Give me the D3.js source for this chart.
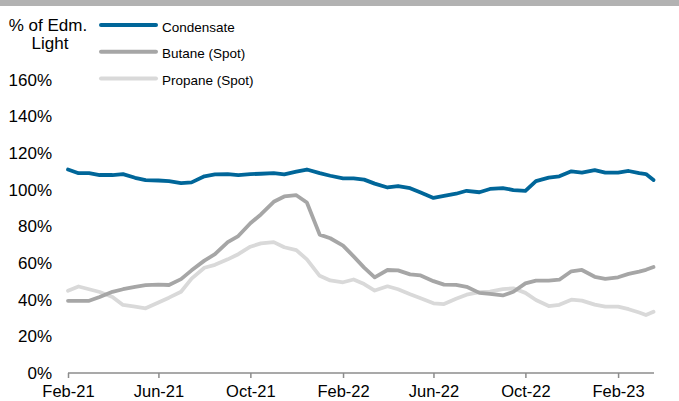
<!DOCTYPE html>
<html>
<head>
<meta charset="utf-8">
<script src="https://cdn.jsdelivr.net/npm/d3@7"></script>
<style>
body { margin: 0; background: white; }
text { font-family: "Liberation Sans", Arial, sans-serif; fill: black; }
</style>
</head>
<body>
<div id="chart"></div>
<script>
// datas (1o e 15 de cada mes)
var datas = ["2021-02-01","2021-02-15","2021-03-01","2021-03-15","2021-04-01","2021-04-15","2021-05-01","2021-05-15",
	"2021-06-01","2021-06-15","2021-07-01","2021-07-15","2021-08-01","2021-08-15","2021-09-01","2021-09-15",
	"2021-10-01","2021-10-15","2021-11-01","2021-11-15","2021-12-01","2021-12-15","2022-01-01","2022-01-15",
	"2022-02-01","2022-02-15","2022-03-01","2022-03-15","2022-04-01","2022-04-15","2022-05-01","2022-05-15",
	"2022-06-01","2022-06-15","2022-07-01","2022-07-15","2022-08-01","2022-08-15","2022-09-01","2022-09-15",
	"2022-10-01","2022-10-15","2022-11-01","2022-11-15","2022-12-01","2022-12-15","2023-01-01","2023-01-15",
	"2023-02-01","2023-02-15","2023-03-01","2023-03-10","2023-03-20"];

var condensate = [111,109,109,108,108,108.5,106.5,105.2,105,104.7,103.6,104,107.3,108.3,108.5,108,
	108.5,108.7,109,108.3,109.8,111,109,107.6,106.2,106.2,105.5,103.3,101.2,102,100.8,98.4,
	95.5,96.6,97.8,99.4,98.6,100.4,100.9,99.8,99.3,104.7,106.6,107.3,110,109.3,110.7,109.3,
	109.3,110.2,109,108.5,105.3];

var butane = [39.4,39.4,39.4,41.5,44.3,45.7,47,47.9,48.2,48,51.2,56,61.3,64.8,71.4,74.7,
	81.7,86.5,93.4,96.3,97,93,75.5,73.5,69.5,63.6,57.5,52.2,56.2,56,53.8,53.2,
	50.1,48.2,48.1,47,43.7,43.2,42.3,44.3,48.9,50.4,50.4,50.9,55.5,56.2,52.5,51.4,
	52.2,54.1,55.3,56.3,57.8];

var propane = [44.9,47.2,45.7,44.2,41.5,37.1,36.2,35.3,38.5,41.1,44.3,51.5,57.4,59,62,64.8,
	68.9,70.7,71.4,68.6,67,62,53,50.5,49.5,51,48.5,45,47.3,45.7,43,40.8,
	38,37.6,40.5,42.7,44.1,44.4,45.7,46.2,43.7,39.8,36.5,37.2,40,39.5,37.3,36.2,
	36.2,34.8,33,31.6,33.4];

var series_nomes = ["Condensate", "Butane (Spot)", "Propane (Spot)"];
var series_cores = ["#006699", "#a6a6a6", "#d9d9d9"];
var y_ticks = [0,20,40,60,80,100,120,140,160];
var x_ticks = ["2021-02-01","2021-06-01","2021-10-01","2022-02-01","2022-06-01","2022-10-01","2023-02-01"];

var width = 679;
var height = 401;
var parse = d3.timeParse("%Y-%m-%d");

var svg = d3.select("#chart").append("svg")
	.attr("width", width)
	.attr("height", height);

// barra cinza no topo
svg.append("rect")
	.attr("x", 0)
	.attr("y", 0)
	.attr("width", width)
	.attr("height", 6)
	.style("fill", "#b2b2b2");

var x = d3.scaleTime()
	.domain([parse("2021-02-01"), parse("2023-03-20")])
	.range([68, 653.5]);

var y = d3.scaleLinear()
	.domain([0, 160])
	.range([373, 79.7]);

// eixo x
var xAxis = d3.axisBottom(x)
	.tickValues(x_ticks.map(parse))
	.tickSize(5)
	.tickSizeOuter(0)
	.tickFormat(d3.timeFormat("%b-%y"));

var gx = svg.append("g")
	.attr("transform", "translate(0,373)")
	.call(xAxis);
gx.select(".domain").attr("stroke", "#8c8c8c").attr("stroke-width", 1.5)
	.attr("d", "M68,0H654");
gx.selectAll(".tick line").attr("stroke", "#8c8c8c").attr("stroke-width", 1.5);
gx.selectAll(".tick text")
	.attr("y", 24)
	.attr("dy", null)
	.attr("font-size", "16.5px")
	.attr("font-family", "Liberation Sans, Arial, sans-serif")
	.attr("fill", "black");

// rotulos y
svg.selectAll("text.ylab")
	.data(y_ticks)
	.enter()
	.append("text")
	.attr("class", "ylab")
	.attr("x", 52)
	.attr("y", function(d){ return y(d); })
	.attr("dy", "0.36em")
	.attr("text-anchor", "end")
	.attr("font-size", "17px")
	.text(function(d){ return d + "%"; });

// titulo do eixo
svg.append("text")
	.attr("x", 48)
	.attr("y", 31)
	.attr("text-anchor", "middle")
	.attr("font-size", "17px")
	.text("% of Edm.");
svg.append("text")
	.attr("x", 50)
	.attr("y", 49)
	.attr("text-anchor", "middle")
	.attr("font-size", "17px")
	.text("Light");

// linhas
var valores = [condensate, butane, propane];
var linha = d3.line()
	.x(function(d){ return x(d.data); })
	.y(function(d){ return y(d.v); });

// desenha de tras pra frente (propano embaixo)
for (var i = valores.length - 1; i >= 0; i--) {
	var pts = datas.map(function(dt, k){ return {data: parse(dt), v: valores[i][k]}; });
	svg.append("path")
		.datum(pts)
		.attr("d", linha)
		.style("fill", "none")
		.style("stroke", series_cores[i])
		.style("stroke-width", 3.8)
		.style("stroke-linejoin", "round")
		.style("stroke-linecap", "round");
}

// legenda
var legenda = svg.selectAll("g.leg")
	.data(series_nomes)
	.enter()
	.append("g")
	.attr("class", "leg")
	.attr("transform", function(d, i){ return "translate(0," + (25 + i * 26.8) + ")"; });

legenda.append("line")
	.attr("x1", 101)
	.attr("x2", 156)
	.attr("y1", 0)
	.attr("y2", 0)
	.style("stroke", function(d, i){ return series_cores[i]; })
	.style("stroke-width", 4)
	.style("stroke-linecap", "round");

legenda.append("text")
	.attr("x", 162)
	.attr("y", 6.5)
	.attr("font-size", "13.5px")
	.text(function(d){ return d; });
</script>
</body>
</html>
